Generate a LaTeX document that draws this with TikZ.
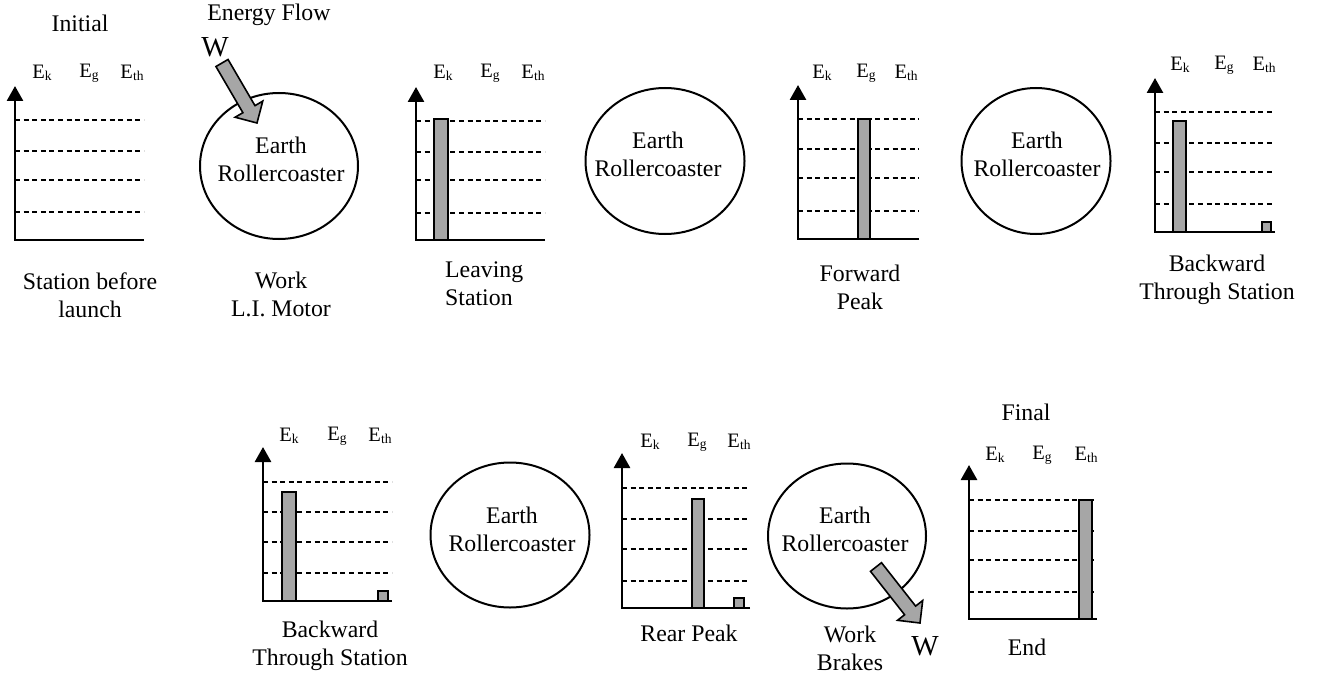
\documentclass[tikz,border=0pt]{standalone}
\usepackage{fontspec}
\setmainfont{Liberation Serif}
\usetikzlibrary{arrows.meta,shapes.geometric,calc}
\definecolor{barfill}{HTML}{A6A6A6}
\newcommand\sub[1]{\raisebox{-0.1em}{\fontsize{13.5}{13.5}\selectfont #1}}
\newcommand\fatarrow[2]{%
  \coordinate (H) at ($(#2)!16pt!(#1)$);
  \draw[fat] ($(#1)!7pt!90:(#2)$) -- ($(H)!7pt!-90:(#1)$) -- ($(H)!16pt!-90:(#1)$) -- (#2)
    -- ($(H)!16pt!90:(#1)$) -- ($(H)!7pt!90:(#1)$) -- ($(#1)!7pt!-90:(#2)$) -- cycle;}
\newcommand\panel[8]{%
  \foreach \d in {#5,#6,#7,#8} \draw[gridline] (#1,\d) -- (#4,\d);}
\newcommand\axes[4]{\draw[axisline] (#4,#2) -- (#1,#2) -- (#1,#3);}
\newcommand\ebar[3]{\draw[barbox] (#1,#3) rectangle (#2,\baseY);}
\begin{document}
\begin{tikzpicture}[x=1pt,y=-1pt,
  txt/.style={font=\fontsize{23.8}{28}\selectfont, align=center, inner sep=0pt},
  elab/.style={font=\fontsize{20.5}{24}\selectfont, inner sep=0pt},
  wlab/.style={font=\fontsize{29}{30}\selectfont, inner sep=0pt},
  gridline/.style={line width=1.2pt, dash pattern=on 5pt off 3.6pt},
  axisline/.style={line width=2.7pt, line join=miter, -{Triangle[width=16pt,length=15pt]}},
  barbox/.style={draw=black, fill=barfill, line width=2.4pt},
  bubble/.style={ellipse, draw, line width=2pt, inner sep=0pt},
  fat/.style={draw=black, fill=barfill, line width=1.6pt, line join=miter}]
\useasboundingbox (0,0) rectangle (1338,674);

% ---------- top row ----------
% Panel 1 : Initial
\node[txt] (ini) at (80,23) {Initial};
\node[elab] (p1k) at (42,73) {E\sub{k}};
\node[elab] (p1g) at (89,73) {E\sub{g}};
\node[elab] (p1t) at (132,73) {E\sub{th}};
\panel{15}{240}{86}{144}{120}{151}{180}{212}
\axes{15}{240}{86}{144}
\node[txt] (l1) at (90,295) {Station before\\launch};

% Ellipse 1 with work in
\node[txt] (ef) at (269,15) {Energy Flow};
\node[bubble, minimum width=158pt, minimum height=146pt] (e1) at (279,166) {};
\node[txt] (e1t) at (281,159) {Earth\\Rollercoaster};
\node[wlab] (w1) at (215,47) {W};
\coordinate (a1s) at (222,63);
\coordinate (a1e) at (257,123);
\fatarrow{a1s}{a1e}
\node[txt] (l2) at (281,294) {Work\\L.I. Motor};

% Panel 2 : Leaving Station
\node[elab] (p2k) at (443,73) {E\sub{k}};
\node[elab] (p2g) at (490,73) {E\sub{g}};
\node[elab] (p2t) at (533,73) {E\sub{th}};
\panel{416}{240}{87}{545}{121}{152}{180}{213}
\def\baseY{240}
\ebar{434}{448}{119}
\axes{416}{240}{87}{545}
\node[txt, align=left, anchor=west] (l3) at (445,283.5) {Leaving\\Station};

% Ellipse 2
\node[bubble, minimum width=159pt, minimum height=146pt] (e2) at (665,161) {};
\node[txt] (e2t) at (658,154) {Earth\\Rollercoaster};

% Panel 3 : Forward Peak
\node[elab] (p3k) at (822,73) {E\sub{k}};
\node[elab] (p3g) at (866,73) {E\sub{g}};
\node[elab] (p3t) at (906,73) {E\sub{th}};
\panel{798}{239}{85}{919}{119}{149}{178}{211}
\def\baseY{239}
\ebar{858}{870}{119}
\axes{798}{239}{85}{919}
\node[txt] (l4) at (860,287) {Forward\\Peak};

% Ellipse 3
\node[bubble, minimum width=149pt, minimum height=146pt] (e3) at (1036,161) {};
\node[txt] (e3t) at (1037,154) {Earth\\Rollercoaster};

% Panel 4 : Backward Through Station
\node[elab] (p4k) at (1180,65) {E\sub{k}};
\node[elab] (p4g) at (1224,65) {E\sub{g}};
\node[elab] (p4t) at (1264,65) {E\sub{th}};
\panel{1155}{232}{78}{1275}{112}{143}{172}{204}
\def\baseY{232}
\ebar{1173}{1186}{121}
\ebar{1262}{1271}{222}
\axes{1155}{232}{78}{1275}
\node[txt] (l5) at (1217,280) {Backward\\Through Station};

% ---------- bottom row ----------
% Panel 5 : Backward Through Station
\node[elab] (p5k) at (289,436) {E\sub{k}};
\node[elab] (p5g) at (337,436) {E\sub{g}};
\node[elab] (p5t) at (380,436) {E\sub{th}};
\panel{263}{601}{447}{392}{482}{512}{542}{573}
\def\baseY{601}
\ebar{282}{296}{492}
\ebar{378}{388}{591}
\axes{263}{601}{447}{392}
\node[txt] (l6) at (330,646) {Backward\\Through Station};

% Ellipse 4
\node[bubble, minimum width=159pt, minimum height=145pt] (e4) at (510,535) {};
\node[txt] (e4t) at (512,529) {Earth\\Rollercoaster};

% Panel 6 : Rear Peak
\node[elab] (p6k) at (650,442) {E\sub{k}};
\node[elab] (p6g) at (697,442) {E\sub{g}};
\node[elab] (p6t) at (739,442) {E\sub{th}};
\panel{622}{608}{453}{750}{488}{519}{549}{581}
\def\baseY{608}
\ebar{692}{704}{499}
\ebar{734}{744}{598}
\axes{622}{608}{453}{750}
\node[txt] (l7) at (689,633) {Rear Peak};

% Ellipse 5 with work out
\node[bubble, minimum width=158pt, minimum height=145pt] (e5) at (847,536) {};
\node[txt] (e5t) at (845,529.5) {Earth\\Rollercoaster};
\coordinate (a2s) at (876,567);
\coordinate (a2e) at (920,623);
\fatarrow{a2s}{a2e}
\node[wlab] (w2) at (925,646) {W};
\node[txt] (l8) at (850,648) {Work\\Brakes};

% Panel 7 : Final
\node[txt] (fin) at (1026,412) {Final};
\node[elab] (p7k) at (995,455) {E\sub{k}};
\node[elab] (p7g) at (1042,455) {E\sub{g}};
\node[elab] (p7t) at (1086,455) {E\sub{th}};
\panel{969}{619}{465}{1097}{500}{531}{560}{592}
\def\baseY{619}
\ebar{1079}{1092}{500}
\axes{969}{619}{465}{1097}
\node[txt] (l9) at (1027,647) {End};
\end{tikzpicture}
\end{document}
